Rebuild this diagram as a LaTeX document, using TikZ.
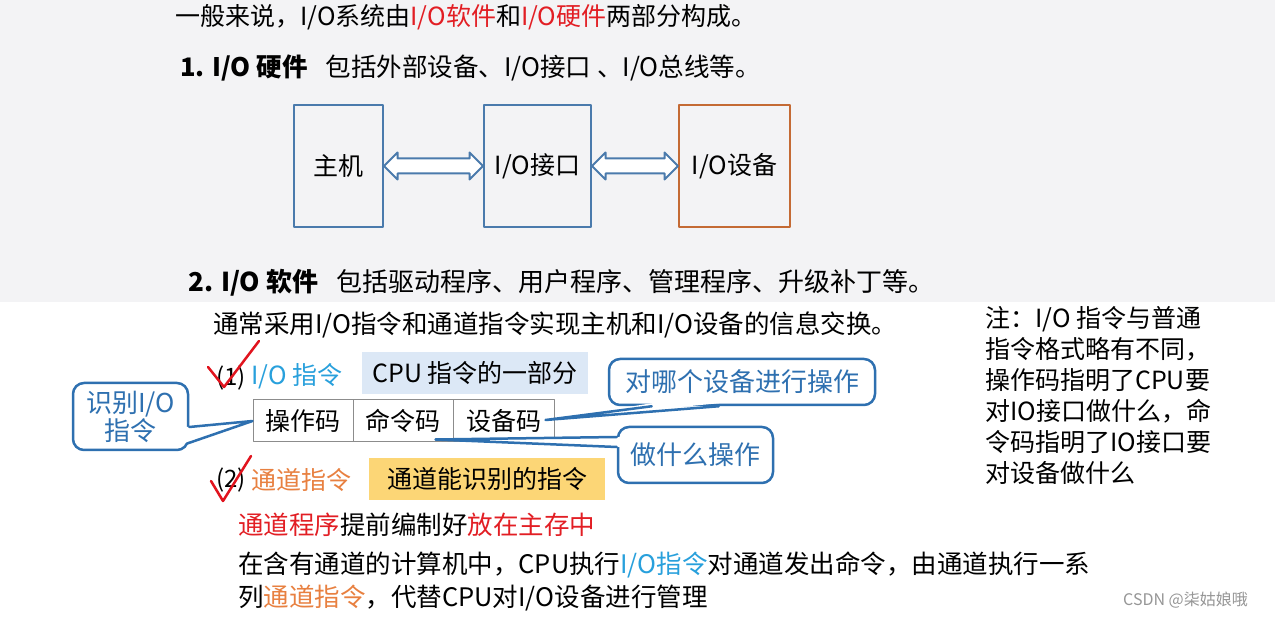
\documentclass[tikz,border=0pt]{standalone}
\usepackage{fontspec}
\setmainfont{Noto Sans CJK SC}
\usetikzlibrary{shapes.arrows}
\definecolor{boxblue}{RGB}{74,122,172}
\definecolor{devorange}{RGB}{196,106,52}
\definecolor{callblue}{RGB}{46,112,176}
\definecolor{cyantext}{RGB}{40,160,220}
\definecolor{orangetext}{RGB}{232,128,64}
\definecolor{redtext}{RGB}{226,30,36}
\definecolor{checkred}{RGB}{225,20,30}
\definecolor{hlblue}{RGB}{220,232,246}
\definecolor{hlyellow}{RGB}{252,214,118}
\definecolor{cellgray}{RGB}{140,140,140}
\definecolor{topgray}{RGB}{243,243,245}
\definecolor{wmgray}{RGB}{150,150,150}

\begin{document}
\begin{tikzpicture}[line cap=round,line join=round,x=1pt,y=-1pt,
  txt/.style={anchor=west,inner sep=0pt,font=\fontsize{25}{31}\selectfont},
  hwbox/.style={draw=boxblue,line width=2pt,minimum height=122pt,inner sep=0pt,font=\fontsize{25}{31}\selectfont},
  dblarr/.style={double arrow,draw=boxblue,fill=white,line width=2pt,inner sep=0pt,text height=13pt,text depth=0pt,minimum width=25pt,double arrow head extend=6pt,minimum height=99pt},
  cell/.style={draw=cellgray,line width=1pt,minimum width=100pt,minimum height=42pt,inner sep=0pt,font=\fontsize{25}{31}\selectfont},
  hl/.style={minimum height=42pt,inner sep=0pt,font=\fontsize{25}{31}\selectfont},
  callbox/.style={draw=callblue,line width=2.5pt,rounded corners=11pt,fill=white,text=callblue,inner sep=0pt,font=\fontsize{26}{28}\selectfont},
  ptr/.style={draw=callblue,line width=2.5pt},
  chk/.style={draw=checkred,line width=2.5pt}]
\clip(0,0) rectangle (1275,617);
\fill[white] (0,0) rectangle (1275,617);
\fill[topgray] (0,0) rectangle (1275,302);

% heading lines
\node[txt] (intro) at (175,17) {一般来说，I/O系统由\textcolor{redtext}{I/O软件}和\textcolor{redtext}{I/O硬件}两部分构成。};
\node[txt,font=\fontsize{25.5}{31}\selectfont] (hwline) at (180,68) {{\bfseries 1. I/O 硬件}\hspace{18pt}包括外部设备、I/O接口 、I/O总线等。};

% hardware boxes
\node[hwbox,minimum width=89pt] (host) at (338.5,166) {主机};
\node[hwbox,minimum width=107pt] (iface) at (537.5,166) {I/O接口};
\node[hwbox,draw=devorange,minimum width=111pt] (iodev) at (734.5,166) {I/O设备};
\path (host.east) -- node[dblarr] (arr1) {} (iface.west);
\path (iface.east) -- node[dblarr,minimum height=86pt] (arr2) {} (iodev.west);

% software lines
\node[txt,font=\fontsize{26}{31}\selectfont] (swline) at (188,283) {{\bfseries 2. I/O 软件}\hspace{18pt}包括驱动程序、用户程序、管理程序、升级补丁等。};
\node[txt,font=\fontsize{25.5}{31}\selectfont] (usual) at (213,325) {通常采用I/O指令和通道指令实现主机和I/O设备的信息交换。};

% (1) I/O instruction
\node[txt,font=\fontsize{24}{30}\selectfont] (n1) at (216,378) {(1)};
\node[txt,text=cyantext] (ioins) at (251,376) {I/O 指令};
\node[hl,fill=hlblue,minimum width=226pt] (cpuhl) at (475,373) {CPU 指令的一部分};
\node[cell] (op) at (303,421) {操作码};
\node[cell] (cmd) at (403,421) {命令码};
\node[cell,minimum width=101pt] (devc) at (503.5,421) {设备码};

% (2) channel instruction
\node[txt,font=\fontsize{24}{30}\selectfont] (n2) at (216,480) {(2)};
\node[txt,text=orangetext] (chins) at (251,480) {通道指令};
\node[hl,fill=hlyellow,minimum width=236pt] (chanhl) at (487,479) {通道能识别的指令};

% callouts
\node[callbox,minimum width=115pt,minimum height=67pt,align=center] (idcall) at (130.5,416.5) {识别I/O\\指令};
\coordinate (ia) at ([yshift=-10.5pt]idcall.east);
\coordinate (ib) at ([xshift=-2pt,yshift=-27pt]idcall.east);
\coordinate (itip) at (op.west);
\fill[white] ([xshift=-3pt]ia) -- (itip) -- ([xshift=-4pt]ib) -- cycle;
\draw[ptr] (ia) -- (itip) -- (ib);

\node[callbox,minimum width=266pt,minimum height=46pt] (whichcall) at (742,382) {对哪个设备进行操作};
\coordinate (wa) at ([xshift=44pt]whichcall.south west);
\coordinate (wb) at ([xshift=111pt]whichcall.south west);
\coordinate (wtip) at ([xshift=-9pt,yshift=1pt]devc.east);
\fill[white] ([yshift=3pt]wa) -- (wtip) -- ([yshift=3pt]wb) -- cycle;
\draw[ptr] (wa) -- (wtip) -- (wb);

\node[callbox,minimum width=155pt,minimum height=56pt] (whatcall) at (695.5,455) {做什么操作};
\coordinate (ta) at ([yshift=18pt]whatcall.west);
\coordinate (tb) at ([yshift=8pt]whatcall.west);
\coordinate (ttip) at ([xshift=-18pt,yshift=3pt]cmd.south east);
\fill[white] ([xshift=3pt]ta) -- (ttip) -- ([xshift=3pt]tb) -- cycle;
\draw[ptr] (ta) -- (ttip) -- (tb);

% check marks
\draw[chk] (208,367) -- (224,387) -- (259,341);
\draw[chk] (211,481) -- (223,501) -- (251,456);

% note on the right
\node[anchor=north west,inner sep=0pt,align=left,font=\fontsize{25}{31}\selectfont] (note) at (985,306) {注：I/O 指令与普通\\指令格式略有不同，\\操作码指明了CPU要\\对IO接口做什么，命\\令码指明了IO接口要\\对设备做什么};

% channel program text
\node[txt,font=\fontsize{25.5}{31}\selectfont] (chprog) at (238,525) {\textcolor{redtext}{通道程序}提前编制好\textcolor{redtext}{放在主存中}};
\node[txt,font=\fontsize{25.5}{31}\selectfont] (para1) at (238,565) {在含有通道的计算机中，CPU执行\textcolor{cyantext}{I/O指令}对通道发出命令，由通道执行一系};
\node[txt,font=\fontsize{25.5}{31}\selectfont] (para2) at (238,598) {列\textcolor{orangetext}{通道指令}，代替CPU对I/O设备进行管理};

% watermark
\node[txt,font=\fontsize{16}{18}\selectfont,text=wmgray] (mark) at (1123,600) {CSDN @柒姑娘哦};
\end{tikzpicture}
\end{document}
